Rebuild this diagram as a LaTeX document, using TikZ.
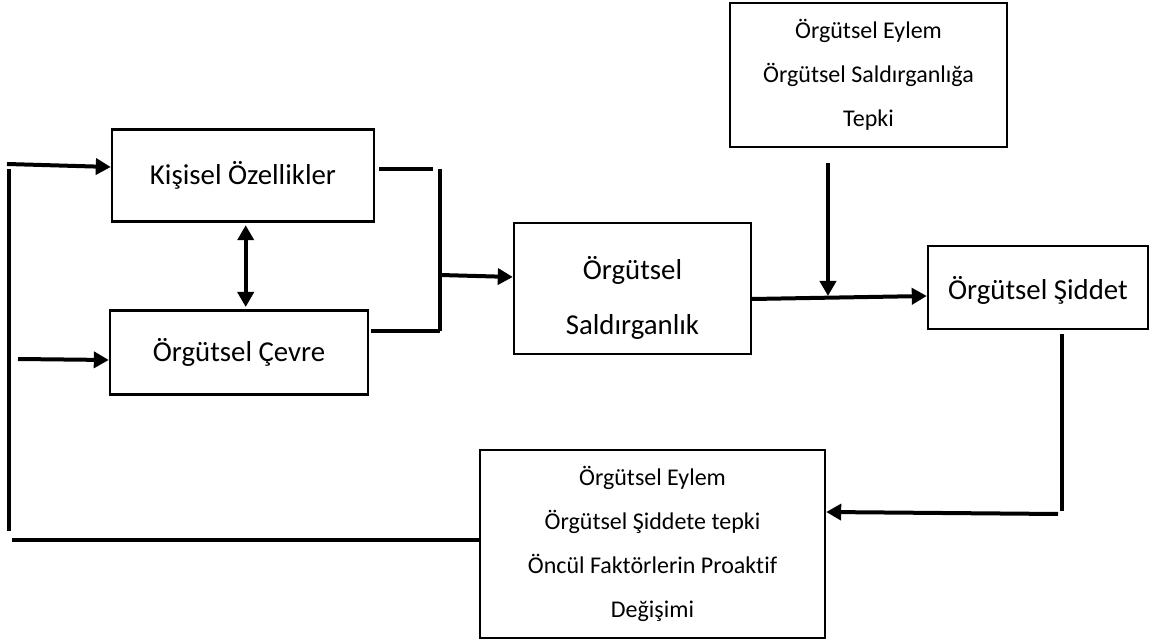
\documentclass[tikz,border=0pt]{standalone}
\usepackage{fontspec}
\setmainfont{Carlito}[Ligatures=NoCommon]
\usetikzlibrary{arrows.meta}

\begin{document}
\begin{tikzpicture}[x=0.5pt, y=-0.5pt,
		kutu/.style={draw, line width=1.2pt, inner sep=0pt, align=center},
		buyuk/.style={font=\fontsize{14.4}{27.5}\selectfont},
		kucuk/.style={font=\fontsize{12}{22}\selectfont},
		hat/.style={line width=2pt},
		ok/.style={hat, -{Triangle[length=7.5pt, width=8pt]}},
		ciftok/.style={hat, {Triangle[length=7.5pt, width=8pt]}-{Triangle[length=7.5pt, width=8pt]}}]
	\useasboundingbox (0,0) rectangle (1152,641);
	% kutular
	\node[kutu, buyuk, minimum width=131pt, minimum height=46pt] (kisisel) at (243,175.6) {Kişisel Özellikler};
	\node[kutu, buyuk, minimum width=129pt, minimum height=42pt] (cevre) at (239,352.6) {Örgütsel Çevre};
	\node[kutu, buyuk, minimum width=118.5pt, minimum height=65.5pt] (saldir) at (632.5,288.4) {\rule{0pt}{21pt}Örgütsel\\Saldırganlık};
	\node[kutu, buyuk, minimum width=110pt, minimum height=41.5pt] (siddet) at (1038,287.5) {\rule{0pt}{14pt}Örgütsel Şiddet};
	\node[kutu, kucuk, minimum width=138.5pt, minimum height=72pt] (tepki) at (868.5,75) {Örgütsel Eylem\\Örgütsel Saldırganlığa\\Tepki};
	\node[kutu, kucuk, minimum width=172.5pt, minimum height=94pt] (eylem) at (652.5,544) {Örgütsel Eylem\\Örgütsel Şiddete tepki\\Öncül Faktörlerin Proaktif\\Değişimi};
	% serbest uclar
	\coordinate (giris1) at (7,164);
	\coordinate (giris2) at (18,359);
	\coordinate (kolUst) at (440,169);
	\coordinate (kolAlt) at (440,331);
	\coordinate (kolOrta) at (440,275);
	\coordinate (tepkiAlt) at (828,163);
	\coordinate (kesisim) at (828,296);
	\coordinate (donus) at (1062,514);
	\coordinate (geriAlt) at (12,540);
	\coordinate (geriUst) at (9,169);
	\coordinate (geriKose) at (9,531);
	% baglantilar
	\draw[ok] (giris1) -- ([yshift=4.3pt]kisisel.west);
	\draw[ok] (giris2) -- ([yshift=-3.7pt]cevre.west);
	\draw[ciftok] ([xshift=1.35pt, yshift=-1.2pt]kisisel.south) -- ([xshift=3.35pt, yshift=1.2pt]cevre.north);
	\draw[hat, shorten <=2pt, shorten >=3.5pt] (kisisel.east |- kolUst) -- (kolUst);
	\draw[hat] (kolUst) -- (kolAlt);
	\draw[hat, shorten <=1pt] (cevre.east |- kolAlt) -- (kolAlt);
	\draw[ok] (kolOrta) -- ([yshift=5.7pt]saldir.west);
	\draw[ok] ([yshift=-5.3pt]saldir.east) -- ([yshift=-4.25pt]siddet.west);
	\draw[ok] (tepkiAlt) -- (kesisim);
	\draw[hat, shorten <=2pt] (siddet.south -| donus) -- ([yshift=1.5pt]donus);
	\draw[ok] ([xshift=-2pt]donus) -- ([yshift=16pt]eylem.east);
	\draw[hat] (eylem.west |- geriAlt) -- (geriAlt);
	\draw[hat] (geriUst) -- (geriKose);
\end{tikzpicture}
\end{document}
